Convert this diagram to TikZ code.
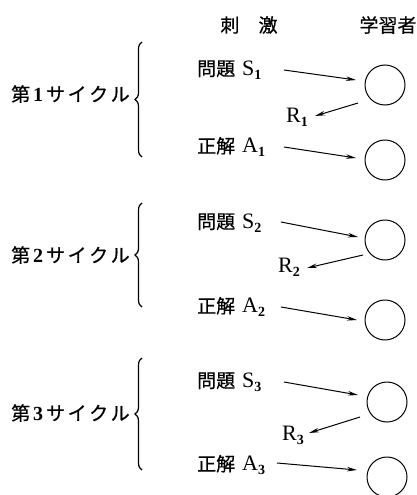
\documentclass[tikz,border=0pt]{standalone}
\usepackage{fontspec}
\newfontfamily\jp[FakeBold=0.6]{Noto Sans CJK JP}
\newfontfamily\lat{Liberation Serif}
\newcommand\subn[1]{\raisebox{-4pt}{\fontsize{14}{14}\selectfont\bfseries #1}}
\newcommand\cyc[1]{\jp 第\hspace{3pt}{\lat\bfseries\fontsize{20}{20}\selectfont #1}\hspace{3pt}サ\hspace{2.5pt}イ\hspace{2.5pt}ク\hspace{2.5pt}ル}
\usetikzlibrary{decorations.pathreplacing,arrows.meta}
\tikzset{
  lbl/.style={inner sep=0pt,font=\fontsize{19}{21}\selectfont},
  latl/.style={inner sep=0pt,font=\lat\fontsize{22}{24}\selectfont},
  learner/.style={circle,draw,line width=1pt,minimum size=40pt,inner sep=0pt},
  arr/.style={line width=1pt,-{Stealth[length=10pt,width=4.5pt]}},
  brc/.style={line width=1.2pt,decorate,decoration={brace,amplitude=7pt}}
}
\begin{document}
\begin{tikzpicture}[x=1pt,y=-1pt]
\useasboundingbox (0,0) rectangle (417,495);
% headers
\node[lbl] (h1) at (249,25) {\jp 刺\hspace{19pt}激};
\node[lbl] (h2) at (388,25) {\jp 学習者};
% cycle labels
\node[lbl,anchor=west] (c1) at (11,94) {\cyc{1}};
\node[lbl,anchor=west] (c2) at (11,255) {\cyc{2}};
\node[lbl,anchor=west] (c3) at (11,413) {\cyc{3}};
% braces
\coordinate (b1t) at (142,42); \coordinate (b1b) at (142,157);
\coordinate (b2t) at (142,203); \coordinate (b2b) at (142,307);
\coordinate (b3t) at (142,358); \coordinate (b3b) at (142,470);
\draw[brc] (b1b) -- (b1t);
\draw[brc] (b2b) -- (b2t);
\draw[brc] (b3b) -- (b3t);
% stimuli
\node[lbl,anchor=west] (S1) at (197,70) {\jp 問題\hspace{7pt}{\lat\fontsize{22}{24}\selectfont S\subn{1}}};
\node[lbl,anchor=west] (A1) at (197,147) {\jp 正解\hspace{7pt}{\lat\fontsize{22}{24}\selectfont A\subn{1}}};
\node[latl] (R1) at (297,117) {R\subn{1}};
\node[lbl,anchor=west] (S2) at (197,223) {\jp 問題\hspace{7pt}{\lat\fontsize{22}{24}\selectfont S\subn{2}}};
\node[lbl,anchor=west] (A2) at (197,307) {\jp 正解\hspace{7pt}{\lat\fontsize{22}{24}\selectfont A\subn{2}}};
\node[latl] (R2) at (289,267) {R\subn{2}};
\node[lbl,anchor=west] (S3) at (197,382) {\jp 問題\hspace{7pt}{\lat\fontsize{22}{24}\selectfont S\subn{3}}};
\node[lbl,anchor=west] (A3) at (197,465) {\jp 正解\hspace{7pt}{\lat\fontsize{22}{24}\selectfont A\subn{3}}};
\node[latl] (R3) at (293,435) {R\subn{3}};
% learners
\node[learner] (L1) at (385,85) {};
\node[learner] (M1) at (385,160) {};
\node[learner] (L2) at (385,240) {};
\node[learner] (M2) at (385,320) {};
\node[learner] (L3) at (387,402) {};
\node[learner] (M3) at (387,477) {};
% arrow end points
\coordinate (s1a) at (284,70); \coordinate (s1b) at (356,80);
\coordinate (r1a) at (358,103); \coordinate (r1b) at (315,116);
\coordinate (a1a) at (284,147); \coordinate (a1b) at (356,158);
\coordinate (s2a) at (281,222); \coordinate (s2b) at (358,237);
\coordinate (r2a) at (363,255); \coordinate (r2b) at (307,268);
\coordinate (a2a) at (281,307); \coordinate (a2b) at (357,320);
\coordinate (s3a) at (284,382); \coordinate (s3b) at (358,395);
\coordinate (r3a) at (360,417); \coordinate (r3b) at (309,433);
\coordinate (a3a) at (277,463); \coordinate (a3b) at (357,470);
\draw[arr] (s1a) -- (s1b);
\draw[arr] (r1a) -- (r1b);
\draw[arr] (a1a) -- (a1b);
\draw[arr] (s2a) -- (s2b);
\draw[arr] (r2a) -- (r2b);
\draw[arr] (a2a) -- (a2b);
\draw[arr] (s3a) -- (s3b);
\draw[arr] (r3a) -- (r3b);
\draw[arr] (a3a) -- (a3b);
\end{tikzpicture}
\end{document}
